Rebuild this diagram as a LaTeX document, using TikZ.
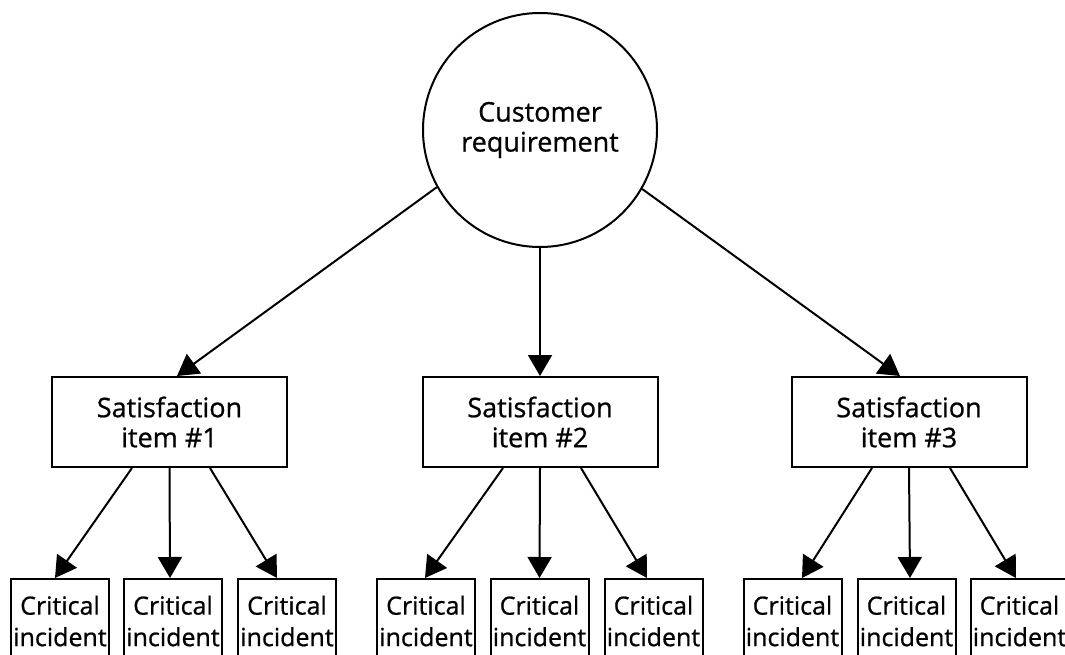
\documentclass[tikz,border=0pt]{standalone}
\usepackage{fontspec}
\setmainfont{Open Sans}[FakeBold=0.8]
\usetikzlibrary{arrows.meta}
\tikzset{
  link/.style={line width=2pt,-{Triangle[length=21pt,width=24pt]}},
  frame/.style={draw,line width=2pt,align=center,inner sep=0pt},
  topnode/.style={frame,circle,minimum size=234pt,font=\fontsize{27}{30}\selectfont},
  itembox/.style={frame,rectangle,minimum width=235pt,minimum height=90pt,font=\fontsize{27}{30}\selectfont},
  incbox/.style={frame,rectangle,minimum width=98pt,minimum height=84pt,font=\fontsize{25}{31.5}\selectfont}
}
\begin{document}
\begin{tikzpicture}[x=1pt,y=-1pt]
  \clip (0,0) rectangle (1065,655);
  \fill[white] (0,0) rectangle (1065,655);

  % root
  \node[topnode] (cr) at (540,130) {Customer\\requirement};

  % satisfaction items
  \node[itembox] (s1) at (169.5,422) {Satisfaction\\item \#1};
  \node[itembox] (s2) at (540,422) {Satisfaction\\item \#2};
  \node[itembox] (s3) at (909,422) {Satisfaction\\item \#3};

  % critical incidents
  \foreach \n/\x in {a1/60,a2/173,a3/287,b1/426,b2/539.5,b3/653.5,c1/792.5,c2/906.5,c3/1019.5}
    \node[incbox] (\n) at (\x,621) {Critical\\incident};

  % root to items
  \draw[link] (cr.209.4) -- ([xshift=7.5pt]s1.north);
  \draw[link] (cr.south) -- (s2.north);
  \draw[link] (cr.330.4) -- ([xshift=-9pt]s3.north);

  % items to incidents
  \draw[link] ([xshift=-37.5pt]s1.south) -- ([xshift=-5pt]a1.north);
  \draw[link] (s1.south) -- ([xshift=-3pt]a2.north);
  \draw[link] ([xshift=40.5pt]s1.south) -- ([xshift=-10pt]a3.north);

  \draw[link] ([xshift=-37pt]s2.south) -- ([xshift=-1pt]b1.north);
  \draw[link] (s2.south) -- (b2.north);
  \draw[link] ([xshift=41pt]s2.south) -- ([xshift=-6.5pt]b3.north);

  \draw[link] ([xshift=-37pt]s3.south) -- ([xshift=9.5pt]c1.north);
  \draw[link] (s3.south) -- ([xshift=3.5pt]c2.north);
  \draw[link] ([xshift=41pt]s3.south) -- ([xshift=-3.5pt]c3.north);
\end{tikzpicture}
\end{document}
